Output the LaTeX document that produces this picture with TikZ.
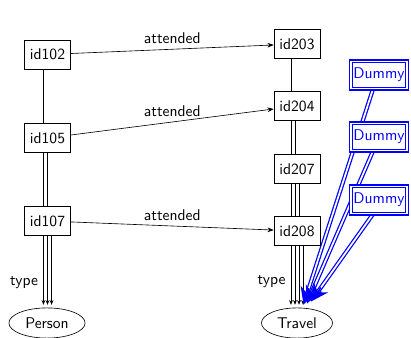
\documentclass[tikz,border=0pt]{standalone}
\usetikzlibrary{shapes.geometric,arrows.meta,backgrounds,calc}
\tikzset{
  idbox/.style={draw,fill=white,font=\sffamily,inner sep=3.5pt,minimum height=18.5pt},
  classnode/.style={draw,fill=white,ellipse,font=\sffamily},
  dummybox/.style={draw=blue,double,double distance=1.1pt,line width=0.75pt,fill=white,
    text=blue,font=\sffamily,inner xsep=1.5pt,minimum height=17.5pt},
  typeedge/.style={-{Stealth[length=3pt,width=2.4pt]},shorten >=1.8pt},
  dummyedge/.style={blue,double,double distance=1.1pt,line width=0.8pt,shorten >=6pt},
  dummytip/.style={blue,line width=1pt,-{Stealth[length=11pt,width=11pt]}},
}
\begin{document}
\begin{tikzpicture}[>={Stealth[length=4pt,width=3pt]},x=0.643pt,y=-0.643pt]
  \useasboundingbox (0,0) rectangle (411,338);
  % persons
  \node[idbox] (id102) at (47.5,54.5) {id102};
  \node[idbox] (id105) at (47.5,138) {id105};
  \node[idbox] (id107) at (47.5,221) {id107};
  \node[classnode] (Person) at (47,323) {Person};
  % travels
  \node[idbox] (id203) at (297,44) {id203};
  \node[idbox] (id204) at (297,106) {id204};
  \node[idbox] (id207) at (297,169) {id207};
  \node[idbox] (id208) at (297,231) {id208};
  \node[classnode] (Travel) at (297,323) {Travel};
  % dummies
  \node[dummybox] (dummyA) at (379,75) {Dummy};
  \node[dummybox] (dummyB) at (379,137) {Dummy};
  \node[dummybox] (dummyC) at (379,200) {Dummy};
  % attended
  \draw[->] (id102) -- node[above,font=\sffamily] {attended} (id203);
  \draw[->] (id105) -- node[above,font=\sffamily] {attended} (id204);
  \draw[->] (id107) -- node[above,font=\sffamily] {attended} (id208);
  \begin{scope}[on background layer]
    % type edges
    \draw[typeedge] ([xshift=-2.6pt]id102.south) -- ([xshift=-2.6pt]id102.south |- Person.north)
      node[pos=0.895,left,font=\sffamily] {type};
    \draw[typeedge] (id105.south) -- (id105.south |- Person.north);
    \draw[typeedge] ([xshift=2.6pt]id107.south) -- ([xshift=2.6pt]id107.south |- Person.north);
    \draw[typeedge] ([xshift=-3.9pt]id203.south) -- ([xshift=-3.9pt]id203.south |- Travel.north)
      node[pos=0.895,left,font=\sffamily] {type};
    \draw[typeedge] ([xshift=-1.3pt]id204.south) -- ([xshift=-1.3pt]id204.south |- Travel.north);
    \draw[typeedge] ([xshift=1.3pt]id207.south) -- ([xshift=1.3pt]id207.south |- Travel.north);
    \draw[typeedge] ([xshift=3.9pt]id208.south) -- ([xshift=3.9pt]id208.south |- Travel.north);
    % dummy edges
    \foreach \dd/\xs/\ys in {dummyA/4.2/1.9,dummyB/6.4/2.6,dummyC/9/3.9}{
      \coordinate (\dd-from) at ([xshift=-3.9pt]\dd.south);
      \coordinate (\dd-to) at ([xshift=\xs pt,yshift=\ys pt]Travel.north);
      \draw[dummyedge] (\dd-from) -- (\dd-to);
      \draw[dummytip] ($(\dd-to)!11pt!(\dd-from)$) -- (\dd-to);
    }
  \end{scope}
\end{tikzpicture}
\end{document}
